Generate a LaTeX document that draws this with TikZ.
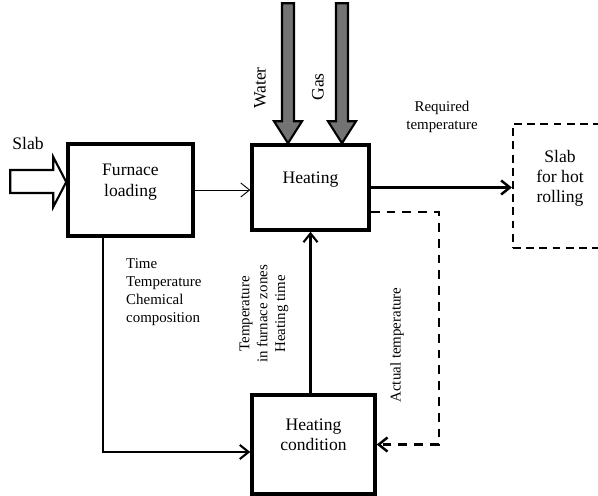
\documentclass[tikz,border=0pt]{standalone}
\usepackage{fontspec}
\setmainfont{Liberation Serif}
\usepackage{xcolor}
\usepackage{tikz}
\usetikzlibrary{arrows.meta}

\tikzset{
  box/.style={draw,line width=2pt,align=center,font=\fontsize{10}{11.5}\selectfont,text depth=11pt},
  note/.style={align=center,font=\fontsize{8.5}{10.2}\selectfont},
  fat/.style={draw,line width=1.2pt,line join=miter},
}

\begin{document}
\begin{tikzpicture}[x=0.02cm,y=-0.02cm]
\useasboundingbox (0,0) rectangle (598,496);
\node (load) at (130.5,190) [box,minimum width=2.5cm,minimum height=1.84cm] {Furnace\\loading};
\node (heat) at (310.5,187.5) [box,minimum width=2.34cm,minimum height=1.7cm] {Heating};
\node (cond) at (313.5,444.5) [box,minimum width=2.46cm,minimum height=1.98cm] {Heating\\condition};
\node (roll) at (560,186) [box,line width=1.3pt,dash pattern=on 4.5pt off 3pt,minimum width=1.88cm,minimum height=2.48cm] {Slab\\for hot\\rolling};

\node (slab) at (28,143) [font=\fontsize{10}{12}\selectfont] {Slab};
\node (water) at (260,88) [rotate=90,font=\fontsize{10}{12}\selectfont] {Water};
\node (gas) at (318,87) [rotate=90,font=\fontsize{10}{12}\selectfont] {Gas};
\node (req) at (442,117) [note] {Required\\temperature};
\node (chem) at (120,292) [note,anchor=west,align=left] {Time\\Temperature\\Chemical\\composition};
\node (zones) at (264,314) [note,rotate=90] {Temperature\\in furnace zones\\Heating time};
\node (act) at (397,345) [note,rotate=90] {Actual temperature};

% inputs
\draw[fat,fill=white] ([yshift=0.16cm]load.west) -- ++(-13,-25) -- ++(0,13) -- ++(-43,0)
  -- ++(0,23) -- ++(43,0) -- ++(0,14) -- cycle;
\draw[fat,fill=black!55] ([xshift=-0.45cm]heat.north) -- ++(-14,-22) -- ++(8,0) -- ++(0,-118)
  -- ++(12,0) -- ++(0,118) -- ++(8,0) -- cycle;
\draw[fat,fill=black!55] ([xshift=0.63cm]heat.north) -- ++(-14,-22) -- ++(8,0) -- ++(0,-118)
  -- ++(12,0) -- ++(0,118) -- ++(8,0) -- cycle;

% connectors
\draw[-{Straight Barb[length=5pt,width=8pt]},line width=0.5pt] (load.east) -- (load.east -| heat.west);
\draw[-{Straight Barb[length=5pt,width=8pt]},line width=1.4pt] (heat.east) -- (heat.east -| roll.west);
\draw[-{Straight Barb[length=5pt,width=8pt]},line width=1.4pt,dash pattern=on 5pt off 4pt]
  ([yshift=-0.49cm]heat.east) -- ++(68,0) |- (cond.east);
\draw[-{Straight Barb[length=5pt,width=8pt]},line width=1.2pt] (heat.south |- cond.north) -- (heat.south);
\draw[-{Straight Barb[length=5pt,width=8pt]},line width=1.2pt] ([xshift=-0.55cm]load.south) |- ([yshift=-0.15cm]cond.west);
\end{tikzpicture}
\end{document}
